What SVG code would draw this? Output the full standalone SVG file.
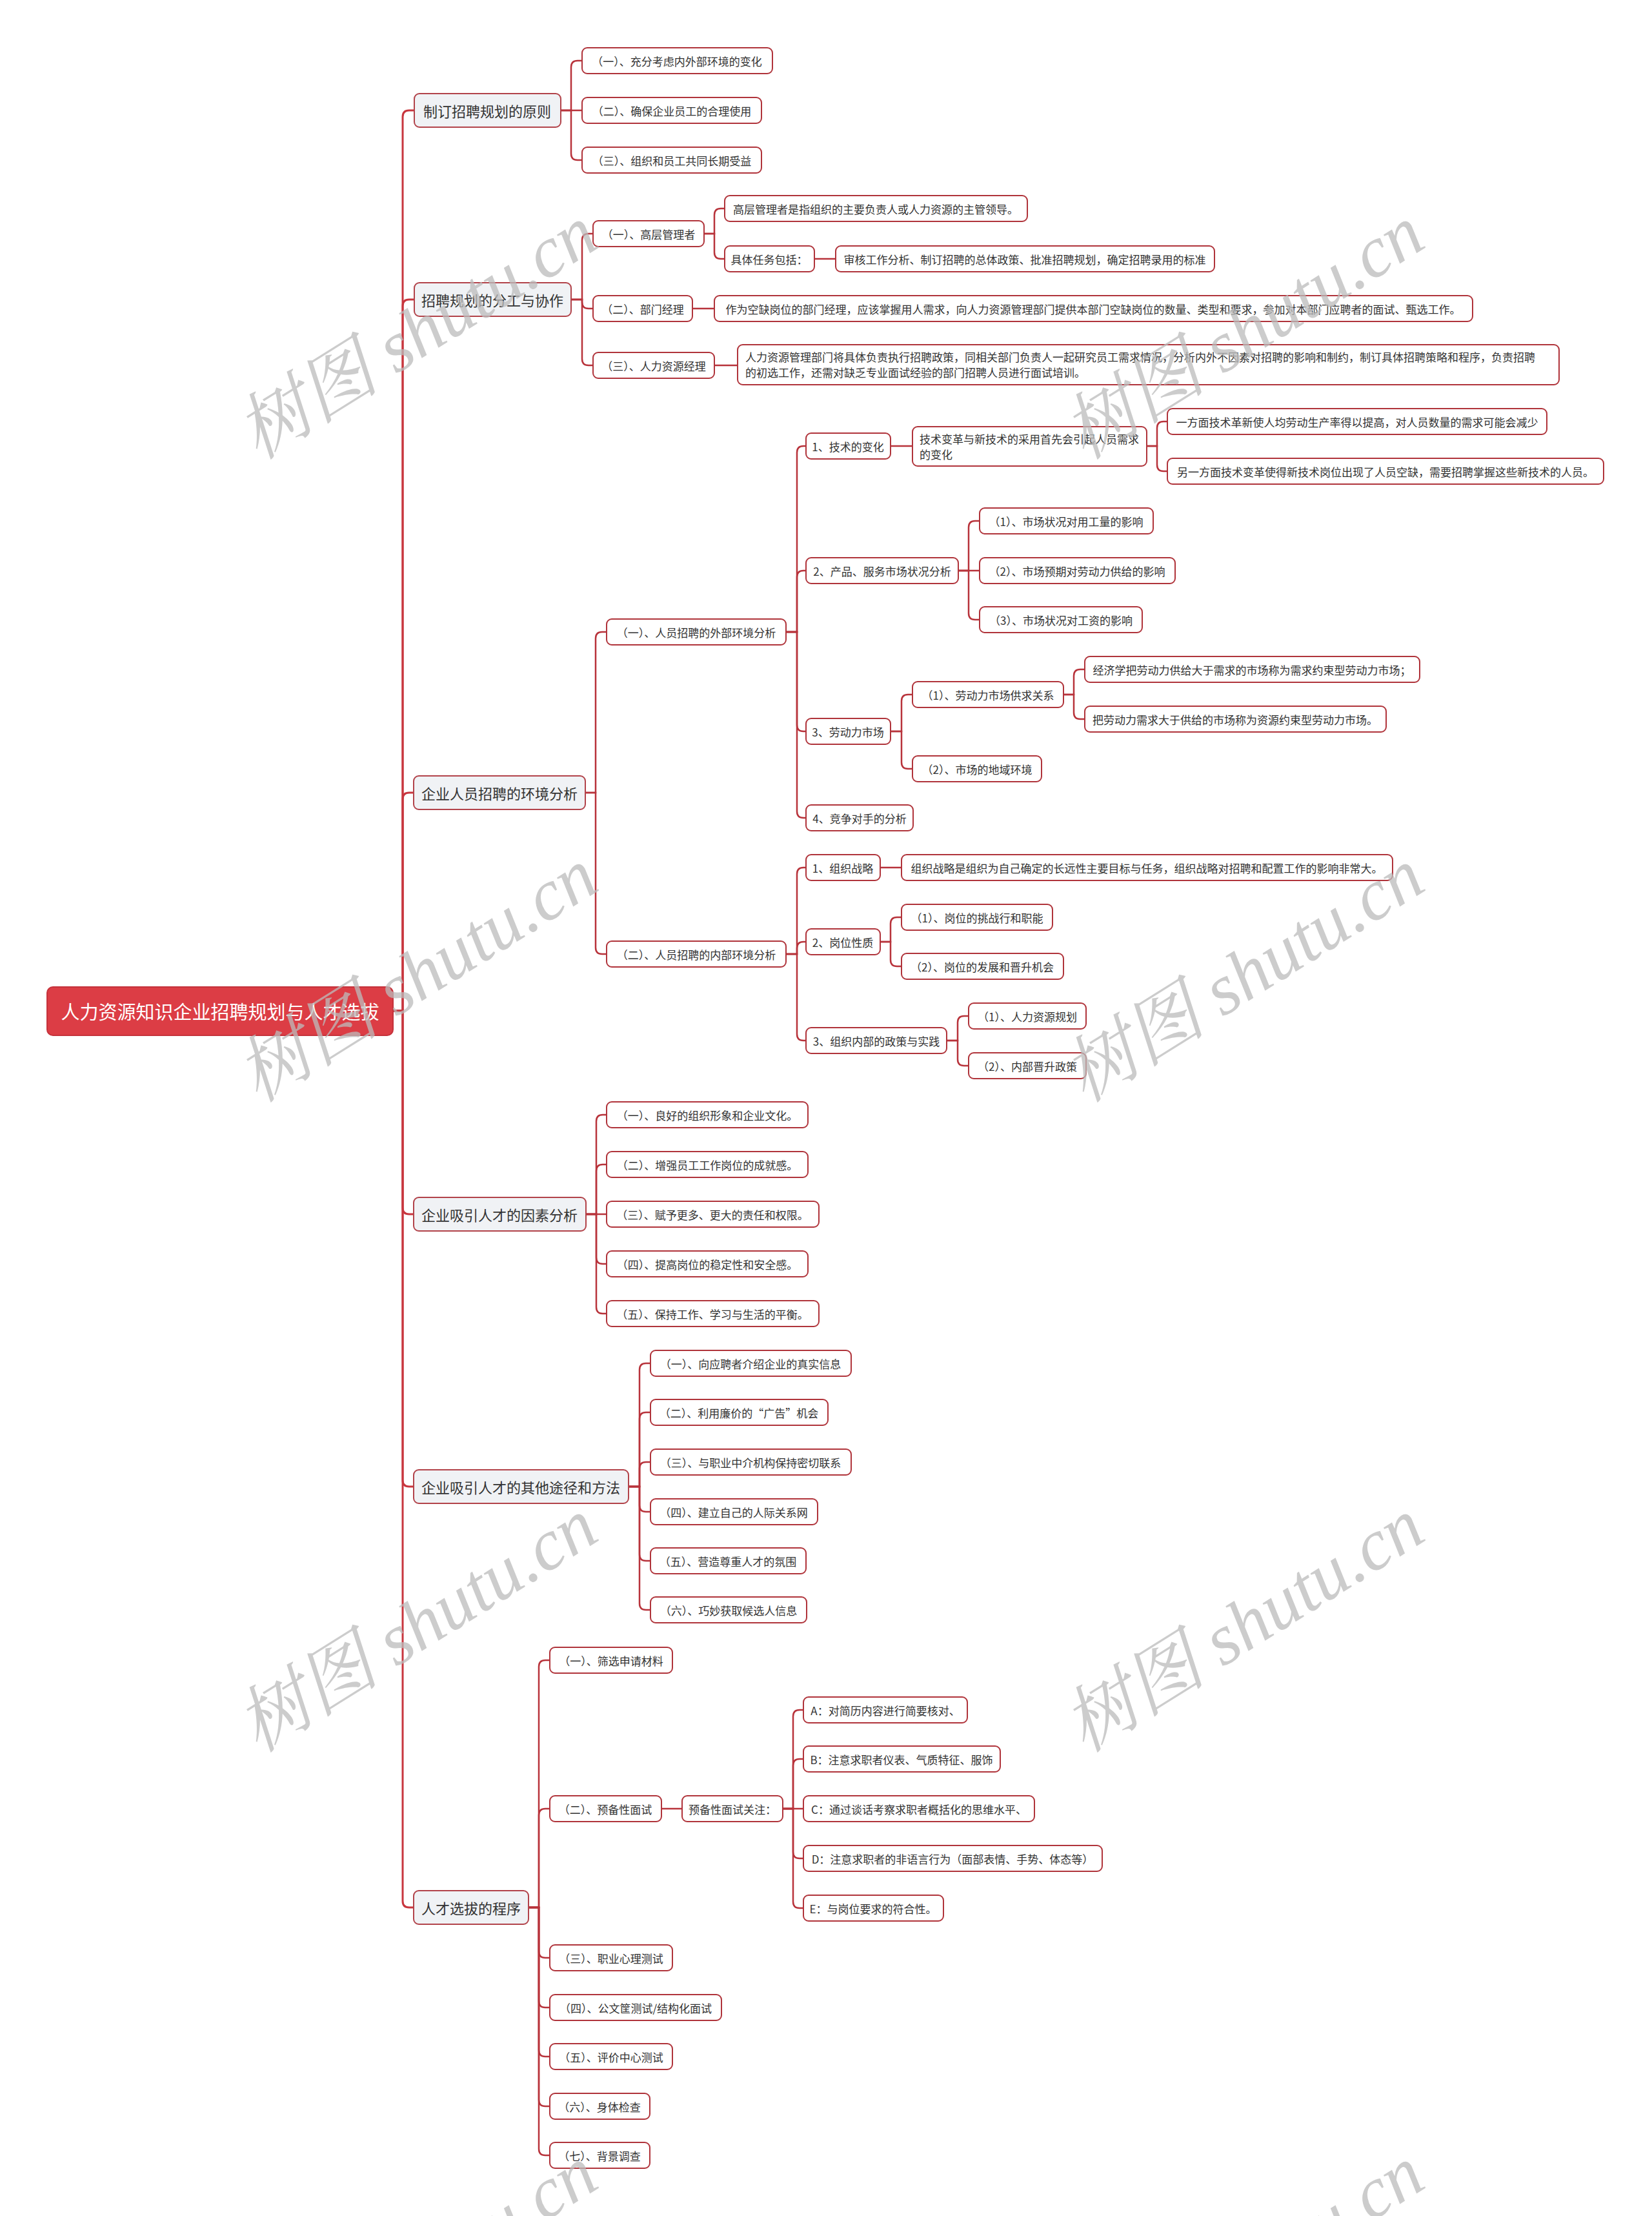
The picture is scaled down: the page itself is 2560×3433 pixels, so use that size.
<svg xmlns="http://www.w3.org/2000/svg" width="2560" height="3433" viewBox="0 0 2560 3433">
<style>
text{font-family:"Noto Sans CJK SC","Noto Sans",sans-serif;fill:#333;}
.n rect{fill:#fff;stroke:#b0343b;stroke-width:2;}
.n text{font-size:17px;text-anchor:middle;dominant-baseline:central;}
.n text.l{text-anchor:start;dominant-baseline:auto;}
.l1 rect{fill:#f0f2f5;stroke:#b2434a;stroke-width:2;}
.l1 text{font-size:22px;text-anchor:middle;dominant-baseline:central;}
.root rect{fill:#dc3d45;stroke:#c5323b;stroke-width:2;}
.root text{font-size:29px;fill:#fff;text-anchor:middle;dominant-baseline:central;}
#connectors path{fill:none;stroke:#b8333b;stroke-width:2.5;}
#connectors path.t{stroke:#c8363e;stroke-width:3;}
.wm{font-family:"Liberation Serif","Noto Serif CJK SC","Noto Sans CJK SC",serif;font-style:italic;font-size:112px;fill:#bcbcbc;opacity:0.75;text-anchor:middle;dominant-baseline:central;}
</style>
<rect width="2560" height="3433" fill="#fff"/>
<g id="connectors">
<path class="t" d="M609,1566 H624 V181 Q624,171 634,171 H641"/>
<path class="t" d="M609,1566 H624 V474 Q624,464 634,464 H641"/>
<path class="t" d="M609,1566 H624 V1238 Q624,1228 634,1228 H641"/>
<path class="t" d="M609,1566 H624 V1871 Q624,1881 634,1881 H641"/>
<path class="t" d="M609,1566 H624 V2293 Q624,2303 634,2303 H641"/>
<path class="t" d="M609,1566 H624 V2945 Q624,2955 634,2955 H641"/>
<path d="M869,171 H885 V104 Q885,94 895,94 H902"/>
<path d="M869,171 H902"/>
<path d="M869,171 H885 V238 Q885,248 895,248 H902"/>
<path d="M885,464 H902 V372 Q902,362 912,362 H919"/>
<path d="M885,464 H902 V468 Q902,478 912,478 H919"/>
<path d="M885,464 H902 V556 Q902,566 912,566 H919"/>
<path d="M1091,362 H1107 V333 Q1107,323 1117,323 H1123"/>
<path d="M1091,362 H1107 V391 Q1107,401 1117,401 H1123"/>
<path d="M1262,401 H1295"/>
<path d="M1073,478 H1107"/>
<path d="M1107,566 H1143"/>
<path d="M907,1228 H923 V989 Q923,979 933,979 H940"/>
<path d="M907,1228 H923 V1468 Q923,1478 933,1478 H940"/>
<path d="M1218,979 H1235 V701 Q1235,691 1245,691 H1249"/>
<path d="M1218,979 H1235 V894 Q1235,884 1245,884 H1249"/>
<path d="M1218,979 H1235 V1123 Q1235,1133 1245,1133 H1249"/>
<path d="M1218,979 H1235 V1257 Q1235,1267 1245,1267 H1249"/>
<path d="M1380,691 H1414"/>
<path d="M1777,691 H1793 V663 Q1793,653 1803,653 H1809"/>
<path d="M1777,691 H1793 V720 Q1793,730 1803,730 H1809"/>
<path d="M1485,884 H1501 V817 Q1501,807 1511,807 H1518"/>
<path d="M1485,884 H1518"/>
<path d="M1485,884 H1501 V950 Q1501,960 1511,960 H1518"/>
<path d="M1380,1133 H1397 V1086 Q1397,1076 1407,1076 H1414"/>
<path d="M1380,1133 H1397 V1181 Q1397,1191 1407,1191 H1414"/>
<path d="M1648,1076 H1664 V1047 Q1664,1037 1674,1037 H1681"/>
<path d="M1648,1076 H1664 V1104 Q1664,1114 1674,1114 H1681"/>
<path d="M1218,1478 H1235 V1354 Q1235,1344 1245,1344 H1249"/>
<path d="M1218,1478 H1235 V1469 Q1235,1459 1245,1459 H1249"/>
<path d="M1218,1478 H1235 V1602 Q1235,1612 1245,1612 H1249"/>
<path d="M1364,1344 H1397"/>
<path d="M1364,1459 H1380 V1431 Q1380,1421 1390,1421 H1397"/>
<path d="M1364,1459 H1380 V1487 Q1380,1497 1390,1497 H1397"/>
<path d="M1467,1612 H1484 V1584 Q1484,1574 1494,1574 H1501"/>
<path d="M1467,1612 H1484 V1641 Q1484,1651 1494,1651 H1501"/>
<path d="M908,1881 H924 V1737 Q924,1727 934,1727 H940"/>
<path d="M908,1881 H924 V1814 Q924,1804 934,1804 H940"/>
<path d="M908,1881 H940"/>
<path d="M908,1881 H924 V1948 Q924,1958 934,1958 H940"/>
<path d="M908,1881 H924 V2025 Q924,2035 934,2035 H940"/>
<path d="M974,2303 H991 V2122 Q991,2112 1001,2112 H1008"/>
<path d="M974,2303 H991 V2198 Q991,2188 1001,2188 H1008"/>
<path d="M974,2303 H991 V2275 Q991,2265 1001,2265 H1008"/>
<path d="M974,2303 H991 V2332 Q991,2342 1001,2342 H1008"/>
<path d="M974,2303 H991 V2408 Q991,2418 1001,2418 H1008"/>
<path d="M974,2303 H991 V2484 Q991,2494 1001,2494 H1008"/>
<path d="M819,2955 H835 V2582 Q835,2572 845,2572 H852"/>
<path d="M819,2955 H835 V2812 Q835,2802 845,2802 H852"/>
<path d="M819,2955 H835 V3023 Q835,3033 845,3033 H852"/>
<path d="M819,2955 H835 V3100 Q835,3110 845,3110 H852"/>
<path d="M819,2955 H835 V3176 Q835,3186 845,3186 H852"/>
<path d="M819,2955 H835 V3253 Q835,3263 845,3263 H852"/>
<path d="M819,2955 H835 V3329 Q835,3339 845,3339 H852"/>
<path d="M1025,2802 H1057"/>
<path d="M1213,2802 H1229 V2659 Q1229,2649 1239,2649 H1245"/>
<path d="M1213,2802 H1229 V2735 Q1229,2725 1239,2725 H1245"/>
<path d="M1213,2802 H1245"/>
<path d="M1213,2802 H1229 V2869 Q1229,2879 1239,2879 H1245"/>
<path d="M1213,2802 H1229 V2946 Q1229,2956 1239,2956 H1245"/>
</g>
<g id="root" class="root"><rect x="73" y="1529" width="536" height="75" rx="9"/><text x="341" y="1566">人力资源知识企业招聘规划与人才选拔</text></g>
<g id="b1" class="l1"><rect x="642" y="145" width="227" height="52" rx="8"/><text x="755" y="171">制订招聘规划的原则</text></g>
<g id="b1a" class="n"><rect x="902" y="74" width="295" height="40" rx="8"/><text x="1049" y="94">（一）、充分考虑内外部环境的变化</text></g>
<g id="b1b" class="n"><rect x="902" y="151" width="278" height="40" rx="8"/><text x="1041" y="171">（二）、确保企业员工的合理使用</text></g>
<g id="b1c" class="n"><rect x="902" y="228" width="278" height="40" rx="8"/><text x="1041" y="248">（三）、组织和员工共同长期受益</text></g>
<g id="b2" class="l1"><rect x="642" y="438" width="243" height="52" rx="8"/><text x="763" y="464">招聘规划的分工与协作</text></g>
<g id="b2a" class="n"><rect x="919" y="342" width="172" height="40" rx="8"/><text x="1005" y="362">（一）、高层管理者</text></g>
<g id="b2a1" class="n"><rect x="1123" y="303" width="469" height="40" rx="8"/><text x="1357" y="323">高层管理者是指组织的主要负责人或人力资源的主管领导。</text></g>
<g id="b2a2" class="n"><rect x="1123" y="381" width="139" height="40" rx="8"/><text x="1192" y="401">具体任务包括：</text></g>
<g id="b2a2a" class="n"><rect x="1295" y="381" width="587" height="40" rx="8"/><text x="1588" y="401">审核工作分析、制订招聘的总体政策、批准招聘规划，确定招聘录用的标准</text></g>
<g id="b2b" class="n"><rect x="919" y="458" width="154" height="40" rx="8"/><text x="996" y="478">（二）、部门经理</text></g>
<g id="b2b1" class="n"><rect x="1107" y="458" width="1175" height="40" rx="8"/><text x="1694" y="478">作为空缺岗位的部门经理，应该掌握用人需求，向人力资源管理部门提供本部门空缺岗位的数量、类型和要求，参加对本部门应聘者的面试、甄选工作。</text></g>
<g id="b2c" class="n"><rect x="919" y="546" width="188" height="40" rx="8"/><text x="1013" y="566">（三）、人力资源经理</text></g>
<g id="b2c1" class="n"><rect x="1143" y="534" width="1273" height="62" rx="8"/><text class="l" x="1155" y="560">人力资源管理部门将具体负责执行招聘政策，同相关部门负责人一起研究员工需求情况，分析内外不因素对招聘的影响和制约，制订具体招聘策略和程序，负责招聘</text><text class="l" x="1155" y="584">的初选工作，还需对缺乏专业面试经验的部门招聘人员进行面试培训。</text></g>
<g id="b3" class="l1"><rect x="641" y="1202" width="266" height="52" rx="8"/><text x="774" y="1228">企业人员招聘的环境分析</text></g>
<g id="b3a" class="n"><rect x="940" y="959" width="278" height="40" rx="8"/><text x="1079" y="979">（一）、人员招聘的外部环境分析</text></g>
<g id="b3a1" class="n"><rect x="1249" y="671" width="131" height="40" rx="8"/><text x="1314" y="691">1、技术的变化</text></g>
<g id="b3a1a" class="n"><rect x="1414" y="661" width="363" height="61" rx="8"/><text class="l" x="1425" y="687">技术变革与新技术的采用首先会引起人员需求</text><text class="l" x="1425" y="711">的变化</text></g>
<g id="b3a1a1" class="n"><rect x="1809" y="633" width="588" height="40" rx="8"/><text x="2103" y="653">一方面技术革新使人均劳动生产率得以提高，对人员数量的需求可能会减少</text></g>
<g id="b3a1a2" class="n"><rect x="1809" y="710" width="676" height="40" rx="8"/><text x="2147" y="730">另一方面技术变革使得新技术岗位出现了人员空缺，需要招聘掌握这些新技术的人员。</text></g>
<g id="b3a2" class="n"><rect x="1249" y="864" width="236" height="40" rx="8"/><text x="1367" y="884">2、产品、服务市场状况分析</text></g>
<g id="b3a2a" class="n"><rect x="1518" y="787" width="269" height="40" rx="8"/><text x="1652" y="807">（1）、市场状况对用工量的影响</text></g>
<g id="b3a2b" class="n"><rect x="1518" y="864" width="303" height="40" rx="8"/><text x="1669" y="884">（2）、市场预期对劳动力供给的影响</text></g>
<g id="b3a2c" class="n"><rect x="1518" y="940" width="252" height="40" rx="8"/><text x="1644" y="960">（3）、市场状况对工资的影响</text></g>
<g id="b3a3" class="n"><rect x="1249" y="1113" width="131" height="40" rx="8"/><text x="1314" y="1133">3、劳动力市场</text></g>
<g id="b3a3a" class="n"><rect x="1414" y="1056" width="234" height="40" rx="8"/><text x="1531" y="1076">（1）、劳动力市场供求关系</text></g>
<g id="b3a3a1" class="n"><rect x="1681" y="1017" width="519" height="40" rx="8"/><text x="1940" y="1037">经济学把劳动力供给大于需求的市场称为需求约束型劳动力市场；</text></g>
<g id="b3a3a2" class="n"><rect x="1681" y="1094" width="467" height="40" rx="8"/><text x="1914" y="1114">把劳动力需求大于供给的市场称为资源约束型劳动力市场。</text></g>
<g id="b3a3b" class="n"><rect x="1414" y="1171" width="200" height="40" rx="8"/><text x="1514" y="1191">（2）、市场的地域环境</text></g>
<g id="b3a4" class="n"><rect x="1249" y="1247" width="166" height="40" rx="8"/><text x="1332" y="1267">4、竞争对手的分析</text></g>
<g id="b3b" class="n"><rect x="940" y="1458" width="278" height="40" rx="8"/><text x="1079" y="1478">（二）、人员招聘的内部环境分析</text></g>
<g id="b3b1" class="n"><rect x="1249" y="1324" width="115" height="40" rx="8"/><text x="1306" y="1344">1、组织战略</text></g>
<g id="b3b1a" class="n"><rect x="1397" y="1324" width="761" height="40" rx="8"/><text x="1777" y="1344">组织战略是组织为自己确定的长远性主要目标与任务，组织战略对招聘和配置工作的影响非常大。</text></g>
<g id="b3b2" class="n"><rect x="1249" y="1439" width="115" height="40" rx="8"/><text x="1306" y="1459">2、岗位性质</text></g>
<g id="b3b2a" class="n"><rect x="1397" y="1401" width="234" height="40" rx="8"/><text x="1514" y="1421">（1）、岗位的挑战行和职能</text></g>
<g id="b3b2b" class="n"><rect x="1397" y="1477" width="251" height="40" rx="8"/><text x="1522" y="1497">（2）、岗位的发展和晋升机会</text></g>
<g id="b3b3" class="n"><rect x="1249" y="1592" width="218" height="40" rx="8"/><text x="1358" y="1612">3、组织内部的政策与实践</text></g>
<g id="b3b3a" class="n"><rect x="1501" y="1554" width="182" height="40" rx="8"/><text x="1592" y="1574">（1）、人力资源规划</text></g>
<g id="b3b3b" class="n"><rect x="1501" y="1631" width="182" height="40" rx="8"/><text x="1592" y="1651">（2）、内部晋升政策</text></g>
<g id="b4" class="l1"><rect x="641" y="1855" width="267" height="52" rx="8"/><text x="774" y="1881">企业吸引人才的因素分析</text></g>
<g id="b4a" class="n"><rect x="940" y="1707" width="312" height="40" rx="8"/><text x="1096" y="1727">（一）、良好的组织形象和企业文化。</text></g>
<g id="b4b" class="n"><rect x="940" y="1784" width="312" height="40" rx="8"/><text x="1096" y="1804">（二）、增强员工工作岗位的成就感。</text></g>
<g id="b4c" class="n"><rect x="940" y="1861" width="329" height="40" rx="8"/><text x="1104" y="1881">（三）、赋予更多、更大的责任和权限。</text></g>
<g id="b4d" class="n"><rect x="940" y="1938" width="312" height="40" rx="8"/><text x="1096" y="1958">（四）、提高岗位的稳定性和安全感。</text></g>
<g id="b4e" class="n"><rect x="940" y="2015" width="329" height="40" rx="8"/><text x="1104" y="2035">（五）、保持工作、学习与生活的平衡。</text></g>
<g id="b5" class="l1"><rect x="641" y="2277" width="333" height="52" rx="8"/><text x="807" y="2303">企业吸引人才的其他途径和方法</text></g>
<g id="b5a" class="n"><rect x="1008" y="2092" width="311" height="40" rx="8"/><text x="1163" y="2112">（一）、向应聘者介绍企业的真实信息</text></g>
<g id="b5b" class="n"><rect x="1008" y="2168" width="275" height="40" rx="8"/><text x="1145" y="2188">（二）、利用廉价的“广告”机会</text></g>
<g id="b5c" class="n"><rect x="1008" y="2245" width="311" height="40" rx="8"/><text x="1163" y="2265">（三）、与职业中介机构保持密切联系</text></g>
<g id="b5d" class="n"><rect x="1008" y="2322" width="259" height="40" rx="8"/><text x="1137" y="2342">（四）、建立自己的人际关系网</text></g>
<g id="b5e" class="n"><rect x="1008" y="2398" width="241" height="40" rx="8"/><text x="1128" y="2418">（五）、营造尊重人才的氛围</text></g>
<g id="b5f" class="n"><rect x="1008" y="2474" width="242" height="40" rx="8"/><text x="1129" y="2494">（六）、巧妙获取候选人信息</text></g>
<g id="b6" class="l1"><rect x="641" y="2929" width="178" height="52" rx="8"/><text x="730" y="2955">人才选拔的程序</text></g>
<g id="b6a" class="n"><rect x="852" y="2552" width="190" height="40" rx="8"/><text x="947" y="2572">（一）、筛选申请材料</text></g>
<g id="b6b" class="n"><rect x="852" y="2782" width="173" height="40" rx="8"/><text x="938" y="2802">（二）、预备性面试</text></g>
<g id="b6b1" class="n"><rect x="1057" y="2782" width="156" height="40" rx="8"/><text x="1135" y="2802">预备性面试关注：</text></g>
<g id="b6b1a" class="n"><rect x="1245" y="2629" width="254" height="40" rx="8"/><text x="1372" y="2649">A：对简历内容进行简要核对、</text></g>
<g id="b6b1b" class="n"><rect x="1245" y="2705" width="305" height="40" rx="8"/><text x="1397" y="2725">B：注意求职者仪表、气质特征、服饰</text></g>
<g id="b6b1c" class="n"><rect x="1245" y="2782" width="358" height="40" rx="8"/><text x="1424" y="2802">C：通过谈话考察求职者概括化的思维水平、</text></g>
<g id="b6b1d" class="n"><rect x="1245" y="2859" width="463" height="40" rx="8"/><text x="1476" y="2879">D：注意求职者的非语言行为（面部表情、手势、体态等）</text></g>
<g id="b6b1e" class="n"><rect x="1245" y="2936" width="217" height="40" rx="8"/><text x="1353" y="2956">E：与岗位要求的符合性。</text></g>
<g id="b6c" class="n"><rect x="852" y="3013" width="190" height="40" rx="8"/><text x="947" y="3033">（三）、职业心理测试</text></g>
<g id="b6d" class="n"><rect x="852" y="3090" width="266" height="40" rx="8"/><text x="985" y="3110">（四）、公文筐测试/结构化面试</text></g>
<g id="b6e" class="n"><rect x="852" y="3166" width="190" height="40" rx="8"/><text x="947" y="3186">（五）、评价中心测试</text></g>
<g id="b6f" class="n"><rect x="852" y="3243" width="155" height="40" rx="8"/><text x="929" y="3263">（六）、身体检查</text></g>
<g id="b6g" class="n"><rect x="852" y="3319" width="155" height="40" rx="8"/><text x="929" y="3339">（七）、背景调查</text></g>
<g id="watermarks">
<text class="wm" transform="translate(646,515) rotate(-32)">树图 shutu.cn</text>
<text class="wm" transform="translate(1927,515) rotate(-32)">树图 shutu.cn</text>
<text class="wm" transform="translate(646,1511) rotate(-32)">树图 shutu.cn</text>
<text class="wm" transform="translate(1927,1511) rotate(-32)">树图 shutu.cn</text>
<text class="wm" transform="translate(646,2518) rotate(-32)">树图 shutu.cn</text>
<text class="wm" transform="translate(1927,2518) rotate(-32)">树图 shutu.cn</text>
<text class="wm" transform="translate(646,3521) rotate(-32)">树图 shutu.cn</text>
<text class="wm" transform="translate(1927,3521) rotate(-32)">树图 shutu.cn</text>
</g>
</svg>
